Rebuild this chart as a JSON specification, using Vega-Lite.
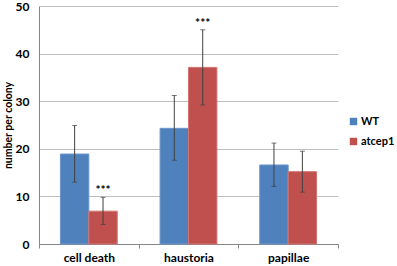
{
  "$schema": "https://vega.github.io/schema/vega-lite/v6.json",
  "autosize": "none",
  "width": 299,
  "height": 238,
  "padding": {"left": 39, "top": 6, "right": 59, "bottom": 22},
  "background": "white",
  "config": {
    "view": {"stroke": null},
    "font": "Lato",
    "axis": {"labelFont": "Lato", "titleFont": "Lato"}
  },
  "data": {
    "values": [
      {"category": "cell death", "genotype": "WT", "value": 18.9, "lo": 13.0, "hi": 24.9, "sig": ""},
      {"category": "cell death", "genotype": "atcep1", "value": 6.9, "lo": 4.1, "hi": 9.8, "sig": "***"},
      {"category": "haustoria", "genotype": "WT", "value": 24.3, "lo": 17.6, "hi": 31.2, "sig": ""},
      {"category": "haustoria", "genotype": "atcep1", "value": 37.1, "lo": 29.2, "hi": 45.0, "sig": "***"},
      {"category": "papillae", "genotype": "WT", "value": 16.6, "lo": 12.1, "hi": 21.2, "sig": ""},
      {"category": "papillae", "genotype": "atcep1", "value": 15.2, "lo": 10.9, "hi": 19.5, "sig": ""}
    ]
  },
  "encoding": {
    "x": {
      "field": "category",
      "type": "nominal",
      "sort": ["cell death", "haustoria", "papillae"],
      "scale": {"paddingInner": 0, "paddingOuter": 0},
      "axis": {
        "title": null,
        "labelAngle": 0,
        "labelFontWeight": "bold",
        "labelFontSize": 12,
        "labelColor": "#000000",
        "labelPadding": 4,
        "tickBand": "extent",
        "tickSize": 4,
        "tickColor": "#868686",
        "domainColor": "#868686",
        "grid": false
      }
    },
    "xOffset": {
      "field": "genotype",
      "type": "nominal",
      "sort": ["WT", "atcep1"],
      "scale": {"paddingInner": 0, "paddingOuter": 0.754}
    }
  },
  "layer": [
    {
      "mark": {"type": "bar", "strokeWidth": 1},
      "encoding": {
        "y": {
          "field": "value",
          "type": "quantitative",
          "scale": {"domain": [0, 50]},
          "axis": {
            "title": "number per colony",
            "titleFontSize": 10.5,
            "titleFontWeight": "bold",
            "titleColor": "#000000",
            "titleX": -36,
            "titleY": 119,
            "titleBaseline": "top",
            "values": [0, 10, 20, 30, 40, 50],
            "labelFontWeight": "bold",
            "labelFontSize": 12,
            "labelColor": "#000000",
            "labelPadding": 10,
            "ticks": false,
            "gridColor": "#BFBFBF",
            "domainColor": "#868686"
          }
        },
        "color": {
          "field": "genotype",
          "type": "nominal",
          "sort": ["WT", "atcep1"],
          "scale": {"domain": ["WT", "atcep1"], "range": ["#4F81BD", "#C0504D"]},
          "legend": {
            "title": null,
            "orient": "none",
            "legendX": 309,
            "legendY": 110,
            "symbolType": "square",
            "symbolSize": 55,
            "symbolStrokeWidth": 0,
            "labelFontSize": 11,
            "labelFontWeight": "bold",
            "labelColor": "#000000",
            "rowPadding": 8,
            "labelOffset": 2
          }
        },
        "stroke": {
          "field": "genotype",
          "type": "nominal",
          "scale": {"domain": ["WT", "atcep1"], "range": ["#6A95CC", "#D27572"]},
          "legend": null
        }
      }
    },
    {
      "mark": {"type": "rule", "color": "#404040", "strokeWidth": 1},
      "encoding": {
        "y": {"field": "lo", "type": "quantitative"},
        "y2": {"field": "hi"}
      }
    },
    {
      "mark": {"type": "tick", "color": "#404040", "size": 5, "thickness": 1},
      "encoding": {
        "y": {"field": "lo", "type": "quantitative"}
      }
    },
    {
      "mark": {"type": "tick", "color": "#404040", "size": 5, "thickness": 1},
      "encoding": {
        "y": {"field": "hi", "type": "quantitative"}
      }
    },
    {
      "mark": {"type": "text", "fontSize": 12, "fontWeight": "bold", "color": "#000000", "baseline": "bottom", "dy": 0},
      "encoding": {
        "y": {"field": "hi", "type": "quantitative"},
        "text": {"field": "sig"}
      }
    }
  ]
}
